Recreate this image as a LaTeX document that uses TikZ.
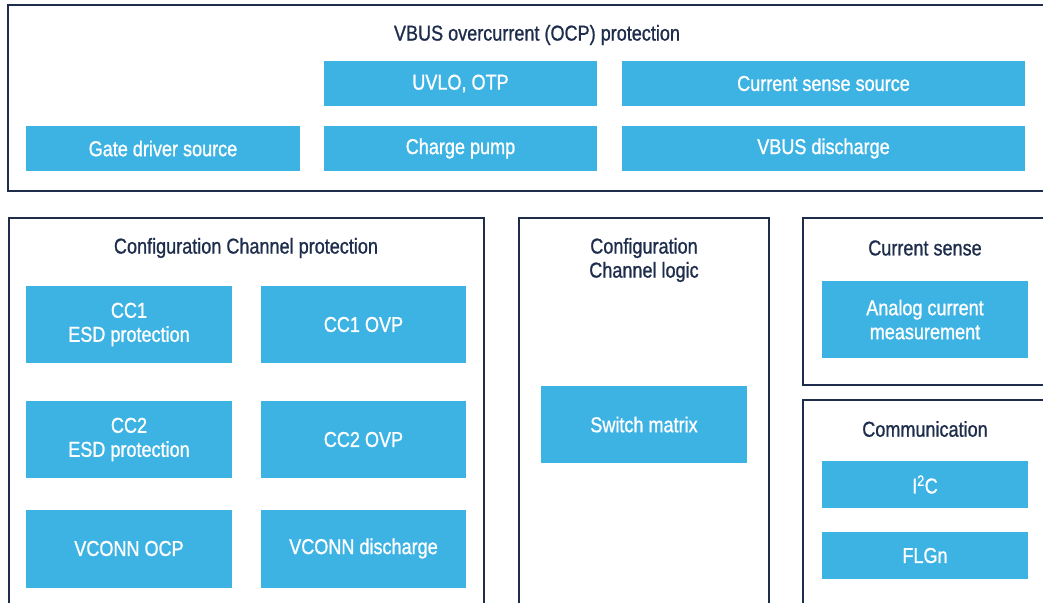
\documentclass[tikz,border=0pt]{standalone}
\usepackage{fontspec}
\setmainfont{Liberation Sans}[FakeStretch=0.84,FakeBold=1]
\definecolor{stblue}{HTML}{3DB3E4}
\definecolor{navy}{HTML}{1E2D4C}
\begin{document}
\begin{tikzpicture}[x=1pt,y=-1pt,
  blk/.style={fill=stblue,draw=none,text=white,font=\fontsize{21.5}{24}\selectfont,align=center,inner sep=0pt},
  frame/.style={draw=navy,line width=2.3pt},
  ttl/.style={text=navy,font=\fontsize{21.5}{24}\selectfont,align=center,inner sep=0pt}]
\useasboundingbox (0,0) rectangle (1043,602);
\clip (0,0) rectangle (1043,602);
% top frame
\draw[frame] (8,5) rectangle (1060,191);
\node[ttl] (tvbus) at (537,35) {VBUS overcurrent (OCP) protection};
\node[blk,minimum width=273pt,minimum height=45pt] (uvlo) at (460.5,83.5) {UVLO, OTP};
\node[blk,minimum width=403pt,minimum height=45pt] (css) at (823.5,83.5) {Current sense source};
\node[blk,minimum width=274pt,minimum height=45pt] (gate) at (163,148.5) {Gate driver source};
\node[blk,minimum width=273pt,minimum height=45pt] (cp) at (460.5,148.5) {Charge pump};
\node[blk,minimum width=403pt,minimum height=45pt] (vbd) at (823.5,148.5) {VBUS discharge};
% CC protection
\draw[frame] (9,218) rectangle (484,630);
\node[ttl] (tccp) at (246,248) {Configuration Channel protection};
\node[blk,minimum width=206pt,minimum height=77pt] (cc1esd) at (129,324.5) {CC1\\ESD protection};
\node[blk,minimum width=205pt,minimum height=77pt] (cc1ovp) at (363.5,324.5) {CC1 OVP};
\node[blk,minimum width=206pt,minimum height=77pt] (cc2esd) at (129,439.5) {CC2\\ESD protection};
\node[blk,minimum width=205pt,minimum height=77pt] (cc2ovp) at (363.5,439.5) {CC2 OVP};
\node[blk,minimum width=206pt,minimum height=78pt] (vocp) at (129,548.5) {VCONN OCP};
\node[blk,minimum width=205pt,minimum height=78pt] (vdis) at (363.5,548.5) {VCONN discharge};
% CC logic
\draw[frame] (519,218) rectangle (769,630);
\node[ttl] (tccl) at (644,260) {Configuration\\Channel logic};
\node[blk,minimum width=206pt,minimum height=77pt] (sw) at (644,424.5) {Switch matrix};
% current sense
\draw[frame] (803,218) rectangle (1060,385);
\node[ttl] (tcs) at (925,248) {Current sense};
\node[blk,minimum width=206pt,minimum height=77pt] (acm) at (925,319.5) {Analog current\\measurement};
% communication
\draw[frame] (803,400) rectangle (1060,630);
\node[ttl] (tcom) at (925,429) {Communication};
\node[blk,minimum width=206pt,minimum height=47pt] (i2c) at (925,484.5) {I\textsuperscript{2}C};
\node[blk,minimum width=206pt,minimum height=47pt] (flgn) at (925,555.5) {FLGn};
\end{tikzpicture}
\end{document}
